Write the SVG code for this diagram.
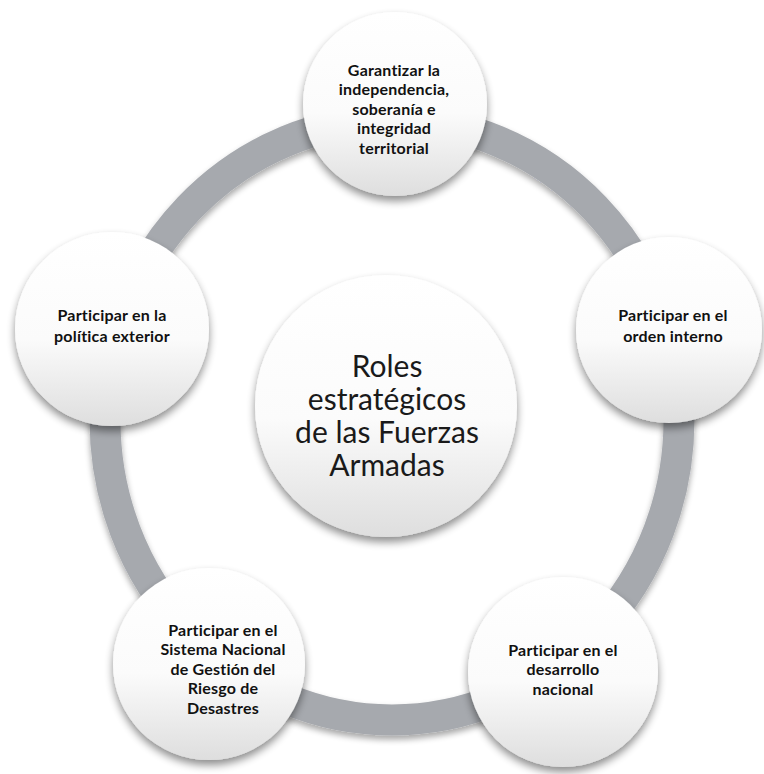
<svg xmlns="http://www.w3.org/2000/svg" width="764" height="774" viewBox="0 0 764 774">
<defs>
<linearGradient id="g" x1="0" y1="0" x2="0" y2="1">
<stop offset="0" stop-color="#ffffff"/>
<stop offset="0.55" stop-color="#fbfbfb"/>
<stop offset="1" stop-color="#dedede"/>
</linearGradient>
<filter id="sh" x="-20%" y="-20%" width="140%" height="150%">
<feGaussianBlur in="SourceAlpha" stdDeviation="4"/>
<feOffset dx="0" dy="5" result="b"/>
<feComponentTransfer><feFuncA type="linear" slope="0.45"/></feComponentTransfer>
<feMerge><feMergeNode/><feMergeNode in="SourceGraphic"/></feMerge>
</filter>
<filter id="rs" x="-10%" y="-10%" width="120%" height="125%">
<feGaussianBlur in="SourceAlpha" stdDeviation="3"/>
<feOffset dx="0" dy="4"/>
<feComponentTransfer><feFuncA type="linear" slope="0.35"/></feComponentTransfer>
<feMerge><feMergeNode/><feMergeNode in="SourceGraphic"/></feMerge>
</filter>
</defs>
<style>
.n{fill:url(#g);filter:url(#sh);}
.t{font-family:Lato,"Liberation Sans",sans-serif;font-weight:bold;font-size:16px;letter-spacing:0.2px;fill:#111;text-anchor:middle;}
.c{font-family:Lato,"Liberation Sans",sans-serif;font-size:30px;fill:#1a1a1a;text-anchor:middle;}
.ring{fill:none;stroke:#a6a9ae;stroke-width:31;filter:url(#rs);}
</style>
<rect width="764" height="774" fill="#ffffff"/>
<g id="connectors">
<ellipse class="ring" cx="392" cy="420" rx="287" ry="300"/>
</g>
<g id="center">
<circle class="n" cx="386" cy="406" r="131"/>
<text class="c" x="387" y="377">Roles</text>
<text class="c" x="387" y="410">estratégicos</text>
<text class="c" x="387" y="443">de las Fuerzas</text>
<text class="c" x="387" y="476">Armadas</text>
</g>
<g id="node-top">
<circle class="n" cx="395" cy="104" r="92"/>
<text class="t" x="394" y="75.5">Garantizar la</text>
<text class="t" x="394" y="95">independencia,</text>
<text class="t" x="394" y="114.5">soberanía e</text>
<text class="t" x="394" y="134">integridad</text>
<text class="t" x="394" y="153.5">territorial</text>
</g>
<g id="node-right">
<circle class="n" cx="669" cy="330" r="93"/>
<text class="t" x="673" y="320.5">Participar en el</text>
<text class="t" x="673" y="341.5">orden interno</text>
</g>
<g id="node-bottom-right">
<circle class="n" cx="563" cy="672" r="95"/>
<text class="t" x="563" y="655.5">Participar en el</text>
<text class="t" x="563" y="675">desarrollo</text>
<text class="t" x="563" y="694.5">nacional</text>
</g>
<g id="node-bottom-left">
<circle class="n" cx="209" cy="664" r="96"/>
<text class="t" x="223" y="635.5">Participar en el</text>
<text class="t" x="223" y="655">Sistema Nacional</text>
<text class="t" x="223" y="674.5">de Gestión del</text>
<text class="t" x="223" y="694">Riesgo de</text>
<text class="t" x="223" y="713.5">Desastres</text>
</g>
<g id="node-left">
<circle class="n" cx="112" cy="329" r="97"/>
<text class="t" x="112" y="320.5">Participar en la</text>
<text class="t" x="112" y="341.5">política exterior</text>
</g>
</svg>
